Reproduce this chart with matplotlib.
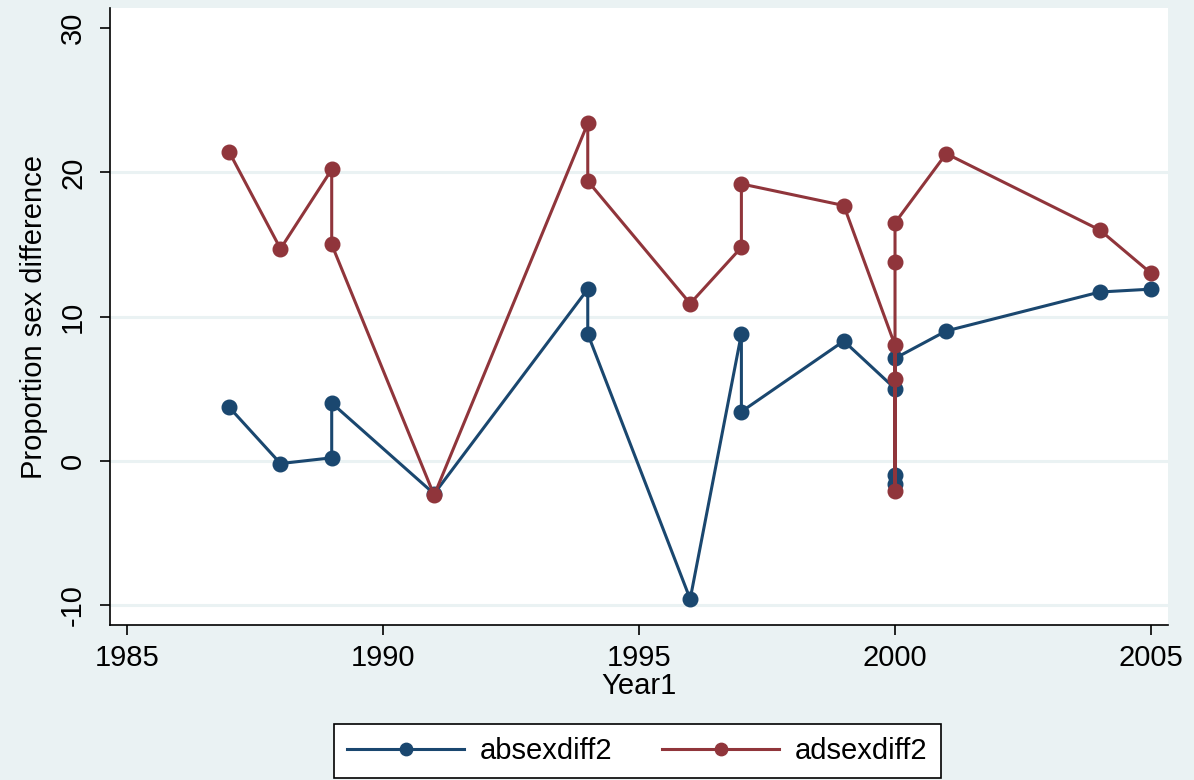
import matplotlib
matplotlib.use("Agg")
import matplotlib.pyplot as plt

# absexdiff2 by year (repeated years are separate observations, in data order)
abs_year = [1987, 1988, 1989, 1989, 1991, 1994, 1994, 1996, 1997, 1997, 1999,
            2000, 2000, 2000, 2000, 2001, 2004, 2005]
abs_val = [3.7, -0.2, 0.2, 4.0, -2.3, 11.9, 8.8, -9.6, 8.8, 3.4, 8.3,
           5.0, -1.0, -1.6, 7.1, 9.0, 11.7, 11.9]

# adsexdiff2 by year
ad_year = [1987, 1988, 1989, 1989, 1991, 1994, 1994, 1996, 1997, 1997, 1999,
           2000, 2000, 2000, 2000, 2000, 2001, 2004, 2005]
ad_val = [21.4, 14.7, 20.2, 15.0, -2.4, 23.4, 19.4, 10.9, 14.8, 19.2, 17.7,
          8.0, 5.7, -2.1, 13.8, 16.5, 21.3, 16.0, 13.0]

x_ticks = [1985, 1990, 1995, 2000, 2005]
y_ticks = [-10, 0, 10, 20, 30]
grid_y = [-10, 0, 10, 20]

bg = "#eaf2f3"
navy = "#1a476f"
maroon = "#90353b"
fs = 21

plt.rcParams["font.family"] = ["Liberation Sans", "DejaVu Sans"]

fig = plt.figure(figsize=(11.94, 7.8), dpi=100, facecolor=bg)
ax = fig.add_axes([0.0921, 0.1987, 0.8861, 0.791])
ax.set_facecolor("white")

for g in grid_y:
    ax.axhline(g, color=bg, lw=2.2, zorder=0)

ax.plot(abs_year, abs_val, "-o", color=navy, lw=2.2, ms=10.5, label="absexdiff2", zorder=3)
ax.plot(ad_year, ad_val, "-o", color=maroon, lw=2.2, ms=10.5, label="adsexdiff2", zorder=4)

ax.set_xlim(1984.67, 2005.33)
ax.set_ylim(-11.4, 31.4)
ax.set_xticks(x_ticks)
ax.set_yticks(y_ticks)
ax.set_yticklabels([str(t) for t in y_ticks], rotation=90, va="center")
ax.tick_params(axis="both", direction="out", length=7.5, width=1.2, labelsize=fs)
ax.tick_params(axis="x", pad=6)
ax.tick_params(axis="y", pad=9)

for side in ["top", "right"]:
    ax.spines[side].set_visible(False)
for side in ["left", "bottom"]:
    ax.spines[side].set_linewidth(1.2)

ax.set_xlabel("Year1", fontsize=fs, labelpad=0)
ax.set_ylabel("Proportion sex difference", fontsize=fs, labelpad=8)

leg = fig.legend(loc="center", bbox_to_anchor=(0.534, 0.037), ncol=2, fontsize=fs,
                 frameon=True, fancybox=False, edgecolor="black", framealpha=1,
                 handlelength=4.0, columnspacing=1.7, handletextpad=0.55,
                 borderpad=0.45, borderaxespad=0, markerscale=0.85)
leg.get_frame().set_linewidth(1.2)

fig.savefig("out.png", dpi=100, facecolor=bg)
